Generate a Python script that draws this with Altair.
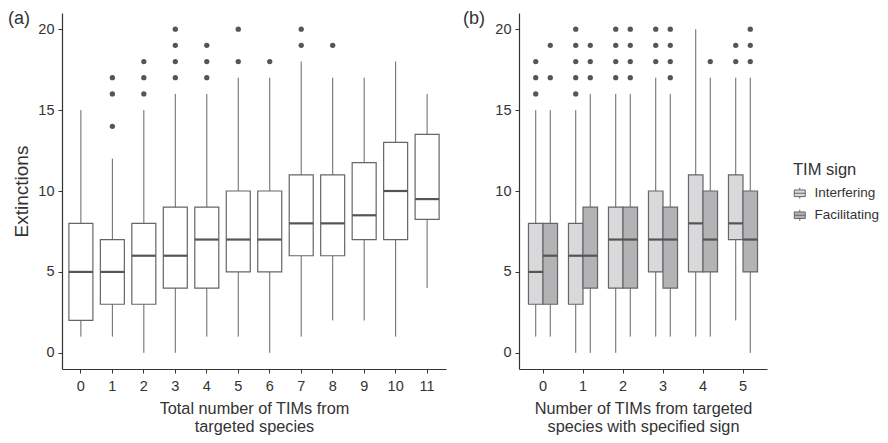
import altair as alt
import pandas as pd

# ---------------- Panel (a) data ----------------
cats_a = list(range(12))
lo_a = [1, 1, 0, 0, 1, 1, 0, 1, 2, 2, 1, 4]
q1_a = [2, 3, 3, 4, 4, 5, 5, 6, 6, 7, 7, 8.25]
med_a = [5, 5, 6, 6, 7, 7, 7, 8, 8, 8.5, 10, 9.5]
q3_a = [8, 7, 8, 9, 9, 10, 10, 11, 11, 11.75, 13, 13.5]
hi_a = [15, 12, 15, 16, 16, 17, 17, 18, 17, 17, 18, 16]
out_a = [[], [14, 16, 17], [16, 17, 18], [17, 18, 19, 20], [17, 18, 19],
         [18, 20], [18], [19, 20], [19], [], [], []]

# ---------------- Panel (b) data ----------------
cats_b = [0, 0, 1, 1, 2, 2, 3, 3, 4, 4, 5, 5]
signs_b = ["Interfering", "Facilitating"] * 6
lo_b = [1, 1, 0, 0, 0, 1, 1, 1, 1, 1, 2, 0]
q1_b = [3, 3, 3, 4, 4, 4, 5, 4, 5, 5, 7, 5]
med_b = [5, 6, 6, 6, 7, 7, 7, 7, 8, 7, 8, 7]
q3_b = [8, 8, 8, 9, 9, 9, 10, 9, 11, 10, 11, 10]
hi_b = [15, 15, 15, 16, 16, 16, 17, 16, 20, 17, 17, 17]
out_b = [[16, 17, 18], [17, 19], [16, 17, 18, 19, 20], [17, 18, 19],
         [17, 18, 19, 20], [17, 18, 19, 20], [18, 19, 20], [17, 18, 19, 20],
         [], [18], [18, 19], [18, 19, 20]]

sign_order = ["Interfering", "Facilitating"]
sign_colors = ["#d9d9db", "#b3b3b5"]
panel_labels = ["(a)", "(b)"]

df_a = pd.DataFrame({"x": cats_a, "lo": lo_a, "q1": q1_a, "med": med_a,
                     "q3": q3_a, "hi": hi_a})
df_a_out = pd.DataFrame([{"x": c, "v": v} for c, vs in zip(cats_a, out_a) for v in vs])

df_b = pd.DataFrame({"x": cats_b, "sign": signs_b, "lo": lo_b, "q1": q1_b,
                     "med": med_b, "q3": q3_b, "hi": hi_b})
df_b_out = pd.DataFrame([{"x": c, "sign": s, "v": v}
                         for c, s, vs in zip(cats_b, signs_b, out_b) for v in vs])

FONT = "Liberation Sans"
TXT = "#333333"
STROKE = "#666666"
MED = "#555555"

yscale = alt.Scale(domain=[-1, 21], nice=False, zero=False)
yaxis_a = alt.Axis(values=[0, 5, 10, 15, 20], title="Extinctions", titlePadding=6,
                   titleFontSize=19)
yaxis_b = alt.Axis(values=[0, 5, 10, 15, 20], title=None)

# ---------------- Panel (a) ----------------
xa = alt.X("x:O", scale=alt.Scale(paddingInner=0, paddingOuter=0.1),
           axis=alt.Axis(labelAngle=0,
                         title=["Total number of TIMs from", "targeted species"]))
base_a = alt.Chart(df_a)
whisk_a = base_a.mark_rule(color=STROKE, strokeWidth=1).encode(
    x=xa, y=alt.Y("lo:Q", scale=yscale, axis=yaxis_a), y2="hi:Q")
box_a = base_a.mark_bar(size=24, fill="white", stroke=STROKE, strokeWidth=1.2).encode(
    x=xa, y=alt.Y("q1:Q", scale=yscale), y2="q3:Q")
med_a_l = base_a.mark_tick(size=24, thickness=2.2, color=MED, opacity=1).encode(
    x=xa, y=alt.Y("med:Q", scale=yscale))
pts_a = alt.Chart(df_a_out).mark_circle(size=28, color=MED, opacity=1).encode(
    x=xa, y=alt.Y("v:Q", scale=yscale))
lab_a = alt.Chart(pd.DataFrame({"lab": [panel_labels[0]]})).mark_text(
    align="left", baseline="top", fontSize=18, font=FONT, color=TXT).encode(
    x=alt.value(-54), y=alt.value(-3), text="lab:N")
panel_a = alt.layer(whisk_a, box_a, med_a_l, pts_a, lab_a).properties(width=384, height=356)

# ---------------- Panel (b) ----------------
xb = alt.X("x:O", scale=alt.Scale(paddingInner=0, paddingOuter=0.1),
           axis=alt.Axis(labelAngle=0,
                         title=["Number of TIMs from targeted", "species with specified sign"]))
xo = alt.XOffset("sign:N", scale=alt.Scale(domain=sign_order, paddingInner=0,
                                            paddingOuter=0.375))
base_b = alt.Chart(df_b)
whisk_b = base_b.mark_rule(color=STROKE, strokeWidth=1).encode(
    x=xb, xOffset=xo, y=alt.Y("lo:Q", scale=yscale, axis=yaxis_b), y2="hi:Q")
box_b = base_b.mark_bar(stroke=STROKE, strokeWidth=1.2, opacity=1).encode(
    x=xb, xOffset=xo, y=alt.Y("q1:Q", scale=yscale), y2="q3:Q",
    fill=alt.Fill("sign:N", scale=alt.Scale(domain=sign_order, range=sign_colors),
                  legend=alt.Legend(title="TIM sign", orient="none",
                                    legendX=731, legendY=149,
                                    symbolType="M-1,-0.6H1V0.6H-1Z M-1,0H1 M0,-0.6V-1 M0,0.6V1",
                                    symbolStrokeColor=STROKE, symbolStrokeWidth=1,
                                    symbolSize=121, symbolOpacity=1,
                                    rowPadding=6, titlePadding=8, labelOffset=8,
                                    labelFontSize=13.5, titleFontSize=16.5,
                                    labelColor=TXT, titleColor=TXT,
                                    labelFont=FONT, titleFont=FONT,
                                    titleFontWeight="normal")))
med_b_l = base_b.mark_tick(size=14.5, thickness=2.2, color=MED, opacity=1).encode(
    x=xb, xOffset=xo, y=alt.Y("med:Q", scale=yscale))
pts_b = alt.Chart(df_b_out).mark_circle(size=28, color=MED, opacity=1).encode(
    x=xb, xOffset=xo, y=alt.Y("v:Q", scale=yscale))
lab_b = alt.Chart(pd.DataFrame({"lab": [panel_labels[1]]})).mark_text(
    align="left", baseline="top", fontSize=18, font=FONT, color=TXT).encode(
    x=alt.value(-56), y=alt.value(-3), text="lab:N")
panel_b = alt.layer(whisk_b, box_b, med_b_l, pts_b, lab_b).properties(width=248, height=356)

chart = alt.hconcat(panel_a, panel_b, spacing=17).properties(
    padding={"left": 0, "top": 2, "right": 0, "bottom": 0}
).configure_view(stroke=None).configure_axis(
    grid=False, domainColor=TXT, tickColor=TXT, tickSize=4, domainWidth=1.2,
    labelColor=TXT, labelFontSize=14.5, labelFont=FONT,
    titleColor=TXT, titleFontSize=16.3, titleFont=FONT, titleFontWeight="normal"
).configure_axisX(
    labelPadding=6, titlePadding=8
).configure_axisY(
    labelPadding=4
)

chart.save("out.html", embed_options={"renderer": "svg", "actions": False})
